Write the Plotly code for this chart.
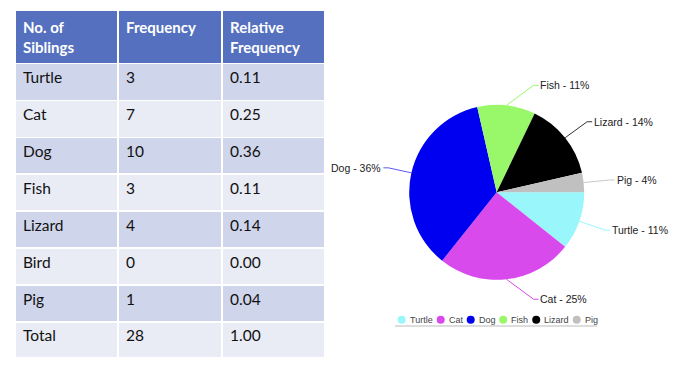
import math
import plotly.graph_objects as go

# ---------------- data ----------------
animals = ["Turtle", "Cat", "Dog", "Fish", "Lizard", "Bird", "Pig"]
frequency = [3, 7, 10, 3, 4, 0, 1]
rel_freq = ["0.11", "0.25", "0.36", "0.11", "0.14", "0.00", "0.04"]
total_label = "Total"
total_freq = 28
total_rel = "1.00"
header_labels = ["No. of<br>Siblings", "Frequency", "Relative<br>Frequency"]

pie_labels = ["Turtle", "Cat", "Dog", "Fish", "Lizard", "Pig"]
pie_values = [3, 7, 10, 3, 4, 1]
pie_colors = ["#99F7FB", "#D94AED", "#0000F0", "#99F86A", "#000000", "#C0C0C0"]
line_colors = ["#99F7FB", "#D94AED", "#5A5AF0", "#99F86A", "#333333", "#C8C8C8"]

# ---------------- layout constants ----------------
OFF = 8                    # default page body margin
W, H = 696 - 2 * OFF, 372 - 2 * OFF
# label elbow offsets (px) relative to slice edge point
elbow = [(26, 9), (27, 20), (-23, -5), (27, -20), (22, -16), (26, -2.5)]

def px(x):
    return (x - OFF) / W

def py(y):
    return 1 - (y - OFF) / H

fig = go.Figure()

# ---------------- table ----------------
col1 = animals + [total_label]
col2 = [str(v) for v in frequency] + [str(total_freq)]
col3 = rel_freq + [total_rel]
n = len(col1)
row_fill = ["#CFD5EA" if i % 2 == 0 else "#E9EBF5" for i in range(n)]

fig.add_trace(go.Table(
    domain=dict(x=[px(15), px(325)], y=[py(357.5), py(10)]),
    columnwidth=[103, 104, 103],
    header=dict(
        values=[f"<b>{h}</b>" for h in header_labels],
        fill_color="#5470BF",
        line=dict(color="white", width=1.5),
        align="left",
        height=47,
        font=dict(family="Lato", size=15, color="white"),
    ),
    cells=dict(
        values=[col1, col2, col3],
        fill_color=[row_fill] * 3,
        line=dict(color="white", width=1.5),
        align="left",
        height=36.9,
        font=dict(family="Lato", size=15.5, color="#111111"),
    ),
))

# ---------------- pie ----------------
cx0, cy0, r0 = 496.7, 192.3, 87.5
dx0, dx1 = px(cx0 - r0), px(cx0 + r0)
dy0, dy1 = py(cy0 + r0), py(cy0 - r0)
fig.add_trace(go.Pie(
    labels=pie_labels,
    values=pie_values,
    marker=dict(colors=pie_colors, line=dict(width=0)),
    sort=False,
    direction="clockwise",
    rotation=90,
    textinfo="none",
    hoverinfo="label+percent",
    showlegend=False,
    domain=dict(x=[dx0, dx1], y=[dy0, dy1]),
))

# geometry of the pie in page pixels (derived from its domain)
cx = (dx0 + dx1) / 2 * W + OFF
cy = (1 - (dy0 + dy1) / 2) * H + OFF
r = min((dx1 - dx0) * W, (dy1 - dy0) * H) / 2

total = sum(pie_values)
shapes = []
annotations = []
cum = 0
for i, (lab, val) in enumerate(zip(pie_labels, pie_values)):
    mid = (cum + val / 2) / total * 2 * math.pi  # clockwise from east
    cum += val
    ex = cx + r * math.cos(mid)
    ey = cy + r * math.sin(mid)
    ox, oy = elbow[i]
    bx, by = ex + ox, ey + oy
    sgn = 1 if ox > 0 else -1
    hx = bx + sgn * 5
    path = f"M {px(ex)} {py(ey)} L {px(bx)} {py(by)} L {px(hx)} {py(by)}"
    shapes.append(dict(type="path", path=path, xref="paper", yref="paper",
                       line=dict(color=line_colors[i], width=1)))
    pct = round(val / total * 100)
    annotations.append(dict(
        x=px(hx), y=py(by), xref="paper", yref="paper",
        text=f"{lab} - {pct}%", showarrow=False,
        xanchor="left" if sgn > 0 else "right", yanchor="middle",
        font=dict(family="Liberation Sans", size=10.5, color="#222222"),
    ))

# ---------------- custom legend ----------------
arial = {"T": .611, "u": .556, "r": .333, "t": .278, "l": .222, "e": .556,
         "C": .722, "a": .556, "D": .722, "o": .556, "g": .556, "F": .611,
         "i": .222, "s": .5, "h": .556, "L": .556, "z": .5, "d": .556, "P": .667}
lfs = 9
lx = 401.7
ly = 319.7
for i, lab in enumerate(pie_labels):
    shapes.append(dict(type="circle", xref="paper", yref="paper",
                       x0=px(lx - 4), x1=px(lx + 4), y0=py(ly + 4), y1=py(ly - 4),
                       fillcolor=pie_colors[i], line=dict(width=0)))
    tx = lx + 6
    annotations.append(dict(
        x=px(tx), y=py(ly), xref="paper", yref="paper", text=lab,
        showarrow=False, xanchor="left", yanchor="middle",
        font=dict(family="Liberation Sans", size=lfs, color="#444444"),
    ))
    tw = sum(arial.get(c, .55) for c in lab) * lfs
    lx = tx + tw + 10

shapes.append(dict(type="line", xref="paper", yref="paper",
                   x0=px(395), x1=px(597), y0=py(326), y1=py(326),
                   line=dict(color="#DDDDDD", width=2)))

fig.update_layout(
    width=W, height=H,
    margin=dict(l=0, r=0, t=0, b=0),
    paper_bgcolor="white",
    plot_bgcolor="white",
    shapes=shapes,
    annotations=annotations,
)

fig.write_html("out.html")
